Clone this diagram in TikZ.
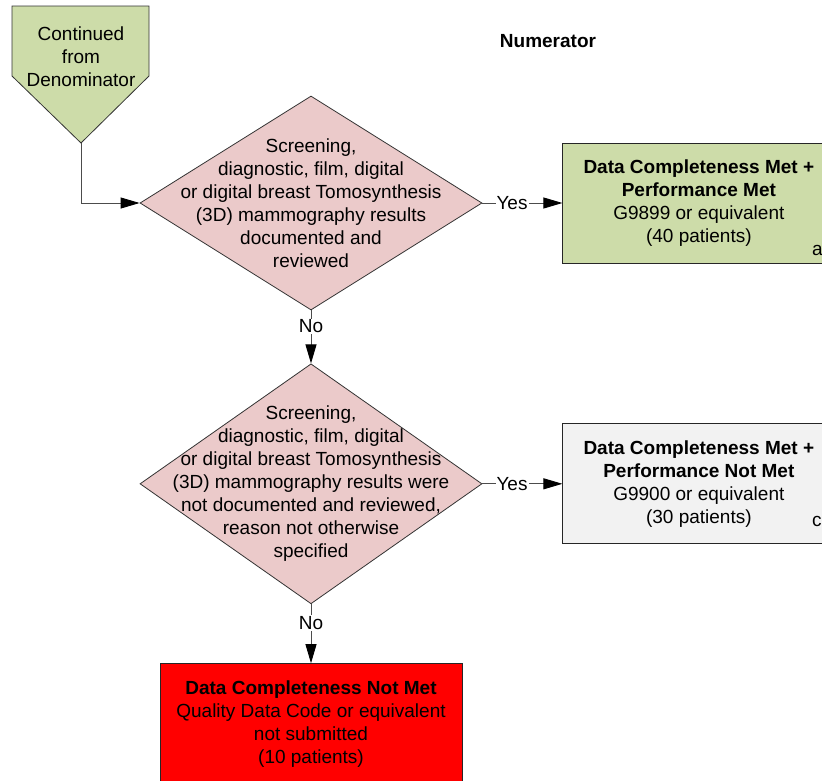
\documentclass[tikz,border=0pt]{standalone}
\usepackage{fontspec}
\setmainfont{Liberation Sans}
\usetikzlibrary{positioning, arrows.meta, shapes.geometric}
\definecolor{metgreen}{HTML}{CDDCA9}
\definecolor{askpink}{HTML}{EBCACA}
\definecolor{notmetgray}{HTML}{F2F2F2}
\definecolor{missred}{HTML}{FF0000}
\tikzset{
>={Triangle[length=19pt,width=11pt,color=black]}, % slim filled arrow heads
every node/.style={font=\fontsize{19}{23}\selectfont, align=center}, % Arial-like text
decision/.style={diamond, draw=black!80, fill=askpink, line width=0.8pt, minimum width=342pt, minimum height=214pt, inner sep=0pt},
outcome/.style={rectangle, draw=black!85, line width=0.9pt, minimum width=272pt, minimum height=120pt, inner sep=0pt},
flow/.style={->, line width=0.9pt, draw=black!70},
answer/.style={fill=white, inner sep=1pt},
}

\begin{document}
\begin{tikzpicture}[x=1pt, y=-1pt]
        \clip (0,0) rectangle (822,780);

        % off-page connector
        \draw[draw=black!80, fill=metgreen, line width=0.8pt] (12,6) -- (149,6) -- (149,76) -- (81,143) -- (12,76) -- cycle;
        \coordinate (contdtip) at (81,143);
        \node (contdtext) at (81,57) {Continued\\from\\Denominator};

        \node[font=\bfseries\fontsize{19}{23}\selectfont] (title) at (548,41) {Numerator};

        % questions
        \node[decision] (doc) at (311,203) {};
        \node (doctext) at (doc) {Screening,\\diagnostic, film, digital\\or digital breast Tomosynthesis\\(3D) mammography results\\documented and\\reviewed};
        \node[decision, minimum height=240pt, below=53pt of doc] (notdoc) {};
        \node (notdoctext) at (notdoc) {Screening,\\diagnostic, film, digital\\or digital breast Tomosynthesis\\(3D) mammography results were\\not documented and reviewed,\\reason not otherwise\\specified};

        % outcomes
        \node[outcome, fill=metgreen, right=80pt of doc] (metbox) {\textbf{Data Completeness Met +}\\\textbf{Performance Met}\\G9899 or equivalent\\(40 patients)};
        \node[outcome, fill=notmetgray, right=80pt of notdoc] (notmetbox) {\textbf{Data Completeness Met +}\\\textbf{Performance Not Met}\\G9900 or equivalent\\(30 patients)};
        \node[outcome, fill=missred, minimum width=302pt, below=59pt of notdoc] (missbox) {\textbf{Data Completeness Not Met}\\Quality Data Code or equivalent\\not submitted\\(10 patients)};
        \node[anchor=west, inner sep=0pt] (metnote) at (812,250) {a};
        \node[anchor=west, inner sep=0pt] (notmetnote) at (812,521) {c};

        \draw[flow] (contdtip) |- (doc.west);
        \draw[flow] (doc.east) -- node[answer, pos=0.37]{Yes} (metbox.west);
        \draw[flow] (doc.south) -- node[answer, pos=0.3]{No} (notdoc.north);
        \draw[flow] (notdoc.east) -- node[answer, pos=0.37]{Yes} (notmetbox.west);
        \draw[flow] (notdoc.south) -- node[answer, pos=0.32]{No} (missbox.north);
    \end{tikzpicture}
\end{document}
